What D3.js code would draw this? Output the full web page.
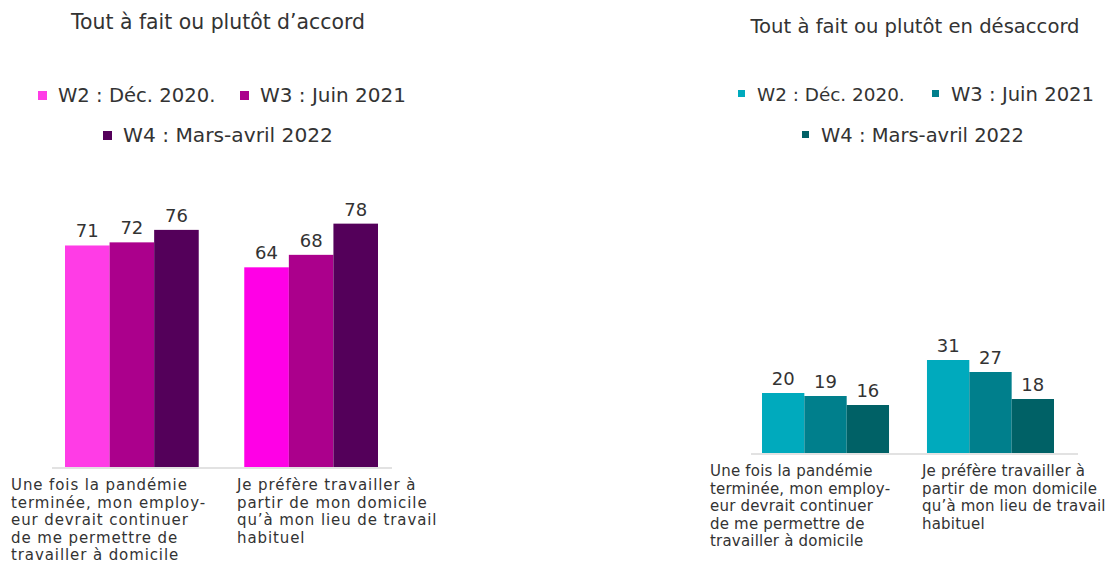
<!DOCTYPE html>
<html>
<head>
<meta charset="utf-8">
<script src="https://cdn.jsdelivr.net/npm/d3@7"></script>
<style>
  body { margin: 0; background: #fff; }
  svg text { font-family: "DejaVu Sans", sans-serif; fill: #333; }
</style>
</head>
<body>
<svg id="chart" width="1108" height="565"></svg>
<script>
// data
var categories = ["pandemie", "domicile"];
var categoryLines = [
    ["Une fois la pandémie", "terminée, mon employ-", "eur devrait continuer", "de me permettre de", "travailler à domicile"],
    ["Je préfère travailler à", "partir de mon domicile", "qu’à mon lieu de travail", "habituel"]
];
var series = ["W2 : Déc. 2020.", "W3 : Juin 2021", "W4 : Mars-avril 2022"];
var accordValues = [[71, 72, 76], [64, 68, 78]];
var desaccordValues = [[20, 19, 16], [31, 27, 18]];

var svg = d3.select("#chart");

/* one panel = title + legend + grouped bars + category labels */
function drawPanel(o) {
    var g = svg.append("g");

    g.append("text")
        .attr("x", o.titleX).attr("y", o.titleY)
        .attr("text-anchor", "middle")
        .style("font-size", o.titleSize)
        .text(o.title);

    // legend
    var leg = g.selectAll(".leg").data(series).enter().append("g")
        .attr("transform", function(d, i) { return "translate(" + o.legendPos[i][0] + "," + o.legendPos[i][1] + ")"; });
    leg.append("rect")
        .attr("x", 0).attr("y", -11)
        .attr("width", o.sw).attr("height", o.sw)
        .attr("fill", function(d, i) { return o.colors[i]; });
    leg.append("text")
        .attr("x", o.legendGap).attr("y", 0)
        .style("font-size", function(d, i) { return o.legendSize[i]; })
        .text(function(d) { return d; });

    var x0 = d3.scaleBand().domain(categories).range(o.xRange).paddingInner(o.pad);
    var x1 = d3.scaleBand().domain(d3.range(series.length)).range([0, x0.bandwidth()]);
    var y = d3.scaleLinear().domain([0, 100]).range(o.yRange);

    // light baseline
    g.append("line")
        .attr("x1", o.axisX[0]).attr("x2", o.axisX[1])
        .attr("y1", y(0) + 1).attr("y2", y(0) + 1)
        .attr("stroke", "#e2e2e2").attr("stroke-width", 2);

    var grp = g.selectAll(".grp").data(o.values).enter().append("g")
        .attr("transform", function(d, i) { return "translate(" + x0(categories[i]) + ",0)"; });

    grp.selectAll("rect").data(function(d, ci) { return d.map(function(v, si) { return { v: v, s: si, c: ci }; }); })
        .enter().append("rect")
        .attr("x", function(d) { return x1(d.s); })
        .attr("width", x1.bandwidth())
        .attr("y", function(d) { return y(d.v); })
        .attr("height", function(d) { return y(0) - y(d.v); })
        .attr("fill", function(d) { return (o.override[d.c] && o.override[d.c][d.s]) || o.colors[d.s]; });

    grp.selectAll(".val").data(function(d) { return d.map(function(v, si) { return { v: v, s: si }; }); })
        .enter().append("text")
        .attr("x", function(d) { return x1(d.s) + x1.bandwidth() / 2; })
        .attr("y", function(d) { return y(d.v) - 8; })
        .attr("text-anchor", "middle")
        .style("font-size", "18px")
        .text(function(d) { return d.v; });

    // category labels, left aligned under each group
    var xl = d3.scaleBand().domain(categories).range(o.labelRange);
    g.selectAll(".cat").data(categoryLines).enter().append("text")
        .attr("x", function(d, i) { return xl(categories[i]); })
        .attr("y", o.labelY)
        .style("font-size", "15px")
        .style("letter-spacing", o.ls)
        .selectAll("tspan").data(function(d) { return d; }).enter().append("tspan")
        .attr("x", function() { return d3.select(this.parentNode).attr("x"); })
        .attr("dy", function(d, i) { return i ? o.lineH : 0; })
        .text(function(d) { return d; });
}

drawPanel({
    title: "Tout à fait ou plutôt d’accord",
    titleX: 218, titleY: 29, titleSize: "20.4px",
    colors: ["#ff3ce6", "#ab008c", "#54005a"],
    override: [null, ["#ff00e6"]],
    legendPos: [[38, 102], [240, 102], [103, 142]],
    sw: 9, legendGap: 20, legendSize: ["19.6px", "20px", "20.2px"],
    values: accordValues,
    xRange: [65, 378], pad: 0.254,
    yRange: [467, 155],
    axisX: [52, 392],
    labelRange: [11, 463], labelY: 490, lineH: 17.6, ls: "0.9px"
});

drawPanel({
    title: "Tout à fait ou plutôt en désaccord",
    titleX: 915, titleY: 33, titleSize: "19.6px",
    colors: ["#00aabd", "#007f8c", "#006166"],
    override: [],
    legendPos: [[738, 101], [932, 101], [802, 142]],
    sw: 7, legendGap: 19, legendSize: ["18.4px", "19.6px", "19.5px"],
    values: desaccordValues,
    xRange: [762, 1054], pad: 0.23,
    yRange: [453, 153],
    axisX: [751, 1078],
    labelRange: [710, 1134], labelY: 476, lineH: 17.6, ls: "0.2px"
});
</script>
</body>
</html>
